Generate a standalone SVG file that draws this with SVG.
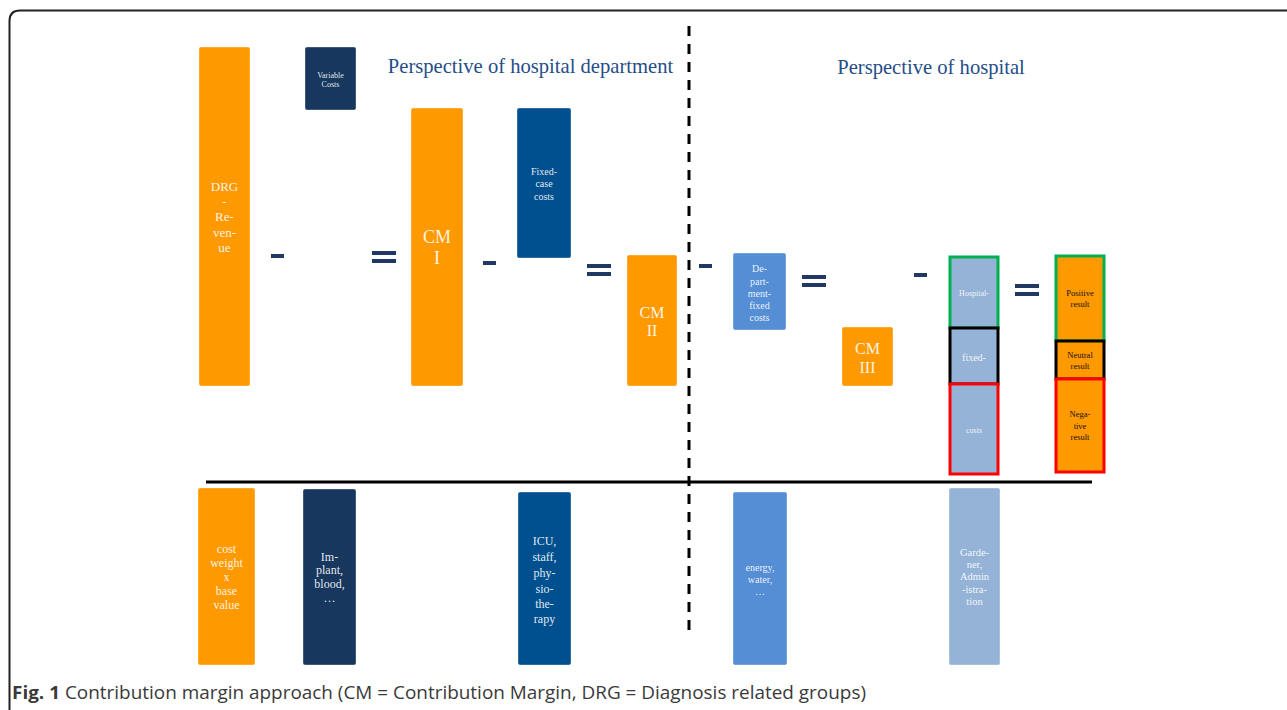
<svg xmlns="http://www.w3.org/2000/svg" width="1287" height="710" viewBox="0 0 1287 710">
<style>
.bx{stroke:#ffffff;stroke-opacity:0.35;stroke-width:1}
.or{fill:#FF9900}
.nv{fill:#17375E}
.bl{fill:#00508F}
.mb{fill:#558ED5}
.lb{fill:#95B3D7}
.t{font-family:"Liberation Serif","Times New Roman",serif;fill:#ffffff;fill-opacity:0.9;text-anchor:middle}
.tk{font-family:"Liberation Serif","Times New Roman",serif;fill:#111111;text-anchor:middle}
.op{fill:#1F3864}
.title{font-family:"Liberation Serif","Times New Roman",serif;fill:#1F4E89;font-size:20.6px;text-anchor:middle}
</style>
<rect width="1287" height="710" fill="#ffffff"/>
<path d="M9.5 710 V21 Q9.5 10.5 20 10.5 H1287" fill="none" stroke="#222222" stroke-width="2"/>

<g id="connectors">
<line x1="689" y1="26" x2="689" y2="630" stroke="#000" stroke-width="3" stroke-dasharray="10,8"/>
<line x1="206" y1="482" x2="1092" y2="482" stroke="#000" stroke-width="3"/>
<rect class="op" x="271" y="254" width="13" height="4"/>
<rect class="op" x="483" y="261" width="13" height="4"/>
<rect class="op" x="699" y="264" width="13" height="4"/>
<rect class="op" x="914" y="273" width="13" height="4"/>
<rect class="op" x="372" y="251" width="24" height="4"/><rect class="op" x="372" y="259" width="24" height="4"/>
<rect class="op" x="587" y="264" width="24" height="4"/><rect class="op" x="587" y="272" width="24" height="4"/>
<rect class="op" x="802" y="275" width="24" height="4"/><rect class="op" x="802" y="283" width="24" height="4"/>
<rect class="op" x="1015" y="284" width="24" height="4"/><rect class="op" x="1015" y="292" width="24" height="4"/>
</g>

<text class="title" x="530.5" y="73">Perspective of hospital department</text>
<text class="title" x="931" y="74">Perspective of hospital</text>

<g id="drg">
<rect class="bx or" x="199" y="47" width="51" height="339" rx="2"/>
<text class="t" font-size="13"><tspan x="224.5" y="191">DRG</tspan><tspan x="224.5" y="206">-</tspan><tspan x="224.5" y="221">Re-</tspan><tspan x="224.5" y="237">ven-</tspan><tspan x="224.5" y="252">ue</tspan></text>
</g>
<g id="varcosts">
<rect class="bx nv" x="305" y="47" width="51" height="63" rx="2"/>
<text class="t" font-size="8"><tspan x="330.5" y="78">Variable</tspan><tspan x="330.5" y="87">Costs</tspan></text>
</g>
<g id="cm1">
<rect class="bx or" x="411" y="108" width="52" height="278" rx="2"/>
<text class="t" font-size="18"><tspan x="437" y="243">CM</tspan><tspan x="437" y="264">I</tspan></text>
</g>
<g id="fixedcase">
<rect class="bx bl" x="517" y="108" width="54" height="150" rx="2"/>
<text class="t" font-size="10"><tspan x="544" y="175">Fixed-</tspan><tspan x="544" y="187">case</tspan><tspan x="544" y="200">costs</tspan></text>
</g>
<g id="cm2">
<rect class="bx or" x="627" y="255" width="50" height="131" rx="2"/>
<text class="t" font-size="16"><tspan x="652" y="318">CM</tspan><tspan x="652" y="336">II</tspan></text>
</g>
<g id="deptfixed">
<rect class="bx mb" x="733" y="253" width="53" height="77" rx="2"/>
<text class="t" font-size="10"><tspan x="759.5" y="272">De-</tspan><tspan x="759.5" y="285">part-</tspan><tspan x="759.5" y="297">ment-</tspan><tspan x="759.5" y="309">fixed</tspan><tspan x="759.5" y="321">costs</tspan></text>
</g>
<g id="cm3">
<rect class="bx or" x="842" y="327" width="51" height="59" rx="2"/>
<text class="t" font-size="16"><tspan x="867.5" y="354">CM</tspan><tspan x="867.5" y="373">III</tspan></text>
</g>
<g id="hospfixed">
<rect x="950" y="257" width="48" height="71" fill="#95B3D7" stroke="#00B050" stroke-width="3"/>
<rect x="950" y="328" width="48" height="56" fill="#95B3D7" stroke="#000000" stroke-width="3"/>
<rect x="950" y="384" width="48" height="90" fill="#95B3D7" stroke="#FF0000" stroke-width="3"/>
<text class="t" font-size="8" x="974" y="296">Hospital-</text>
<text class="t" font-size="10" x="974" y="361">fixed-</text>
<text class="t" font-size="8" x="974" y="433">costs</text>
</g>
<g id="results">
<rect x="1056" y="256" width="48" height="85" fill="#FF9900" stroke="#00B050" stroke-width="3"/>
<rect x="1056" y="341" width="48" height="38" fill="#FF9900" stroke="#000000" stroke-width="3"/>
<rect x="1056" y="379" width="48" height="93" fill="#FF9900" stroke="#FF0000" stroke-width="3"/>
<text class="tk" font-size="8.5"><tspan x="1080" y="296">Positive</tspan><tspan x="1080" y="307">result</tspan></text>
<text class="tk" font-size="8.5"><tspan x="1080" y="358">Neutral</tspan><tspan x="1080" y="369">result</tspan></text>
<text class="tk" font-size="8.5"><tspan x="1080" y="417">Nega-</tspan><tspan x="1080" y="429">tive</tspan><tspan x="1080" y="440">result</tspan></text>
</g>

<g id="costweight">
<rect class="bx or" x="198" y="488" width="57" height="177" rx="2"/>
<text class="t" font-size="12"><tspan x="226.5" y="553">cost</tspan><tspan x="226.5" y="567">weight</tspan><tspan x="226.5" y="581">x</tspan><tspan x="226.5" y="595">base</tspan><tspan x="226.5" y="609">value</tspan></text>
</g>
<g id="implant">
<rect class="bx nv" x="303" y="489" width="53" height="176" rx="2"/>
<text class="t" font-size="12"><tspan x="329.5" y="561">Im-</tspan><tspan x="329.5" y="574">plant,</tspan><tspan x="329.5" y="588">blood,</tspan><tspan x="329.5" y="602">…</tspan></text>
</g>
<g id="icu">
<rect class="bx bl" x="518" y="492" width="53" height="173" rx="2"/>
<text class="t" font-size="12"><tspan x="544.5" y="545">ICU,</tspan><tspan x="544.5" y="561">staff,</tspan><tspan x="544.5" y="577">phy-</tspan><tspan x="544.5" y="593">sio-</tspan><tspan x="544.5" y="608">the-</tspan><tspan x="544.5" y="623">rapy</tspan></text>
</g>
<g id="energy">
<rect class="bx mb" x="733" y="492" width="54" height="173" rx="2"/>
<text class="t" font-size="10"><tspan x="760" y="571">energy,</tspan><tspan x="760" y="583">water,</tspan><tspan x="760" y="595">…</tspan></text>
</g>
<g id="gardener">
<rect class="bx lb" x="949" y="488" width="51" height="177" rx="2"/>
<text class="t" font-size="10.5"><tspan x="974.5" y="556">Garde-</tspan><tspan x="974.5" y="568">ner,</tspan><tspan x="974.5" y="580">Admin</tspan><tspan x="974.5" y="593">-istra-</tspan><tspan x="974.5" y="605">tion</tspan></text>
</g>

<text x="12" y="699" font-family="'Open Sans','Liberation Sans',sans-serif" font-size="18" fill="#3a3a3a" textLength="854" lengthAdjust="spacingAndGlyphs"><tspan font-weight="bold">Fig. 1</tspan> Contribution margin approach (CM = Contribution Margin, DRG = Diagnosis related groups)</text>
</svg>
